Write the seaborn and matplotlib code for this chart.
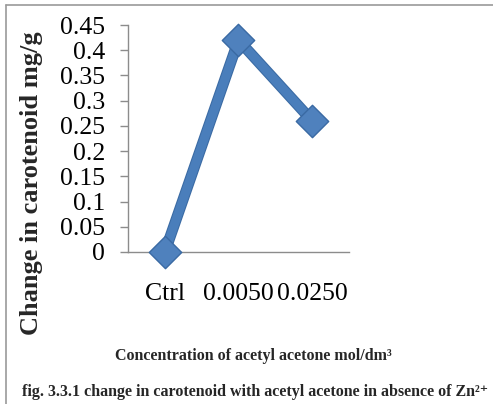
import matplotlib
matplotlib.use("Agg")
import matplotlib.pyplot as plt
import matplotlib.patheffects as pe
from matplotlib.lines import Line2D
import pandas as pd
import seaborn as sns

# Carotenoid change for each acetyl acetone concentration
concentrations = ["Ctrl", "0.0050", "0.0250"]
carotenoid_change = [0.0, 0.42, 0.26]
y_ticks = [0, 0.05, 0.1, 0.15, 0.2, 0.25, 0.3, 0.35, 0.4, 0.45]
y_tick_labels = ["0", "0.05", "0.1", "0.15", "0.2", "0.25", "0.3", "0.35", "0.4", "0.45"]

sns.set_theme(style="white")
serif = ["Liberation Serif", "DejaVu Serif"]
plt.rcParams["font.family"] = serif

df = pd.DataFrame({"conc": concentrations, "change": carotenoid_change})

fig = plt.figure(figsize=(4.93, 4.04), dpi=100)
ax = fig.add_axes([128 / 493, 1 - 252 / 404, (349 - 128) / 493, (252 - 25) / 404])

blue = "#4A7EBB"
edge = "#3a6aa3"
sns.lineplot(data=df, x="conc", y="change", ax=ax, color=blue, linewidth=6.5,
             sort=False, clip_on=False,
             path_effects=[pe.Stroke(linewidth=8, foreground=edge), pe.Normal()])
sns.scatterplot(data=df, x="conc", y="change", ax=ax, marker="D", s=16.5 ** 2,
                color="#4F81BD", edgecolor=edge, linewidth=1.0, zorder=3,
                clip_on=False)

ax.set_xlim(-0.5, 2.5)
ax.set_ylim(0, 0.45)
ax.set_yticks(y_ticks)
ax.set_yticklabels(y_tick_labels)
ax.set_xlabel("")
ax.set_ylabel("")

for side in ["top", "right"]:
    ax.spines[side].set_visible(False)
ax.spines["left"].set_color("#8c8c8c")
ax.spines["bottom"].set_color("#8c8c8c")
ax.spines["left"].set_linewidth(1.0)
ax.spines["bottom"].set_linewidth(1.0)

ax.tick_params(axis="y", which="major", length=5.5, width=1.0, color="#8c8c8c",
               direction="out", left=True, pad=11, labelsize=18.5, labelcolor="black")
ax.tick_params(axis="x", which="major", length=0, pad=22, labelsize=18.5,
               labelcolor="black")
for lab in ax.get_xticklabels() + ax.get_yticklabels():
    lab.set_family(serif)

fig.text(32 / 493, 1 - 183 / 404, "Change in carotenoid mg/g", rotation=90,
         ha="center", va="center", fontsize=19, fontweight="bold", family=serif)
fig.text(253 / 493, 1 - 356 / 404, "Concentration of acetyl acetone mol/dm³",
         ha="center", va="center", fontsize=11.5, fontweight="bold", family=serif)
fig.text(255 / 493, 1 - 392 / 404,
         "fig. 3.3.1 change in carotenoid with acetyl acetone in absence of Zn²⁺",
         ha="center", va="center", fontsize=11.5, fontweight="bold", family=serif)

# Frame lines along the top and left edges of the figure
fig.add_artist(Line2D([6 / 493, 1], [1 - 5 / 404, 1 - 5 / 404],
                      transform=fig.transFigure, color="#9a9a9a", linewidth=1.2))
fig.add_artist(Line2D([6 / 493, 6 / 493], [0, 1 - 5 / 404],
                      transform=fig.transFigure, color="#9a9a9a", linewidth=1.2))

fig.savefig("out.png", dpi=100, facecolor="white")
